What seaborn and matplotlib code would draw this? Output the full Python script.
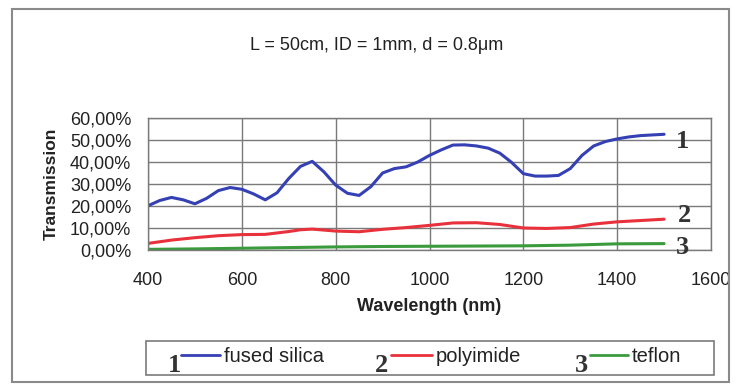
import numpy as np
import pandas as pd
import matplotlib
matplotlib.use("Agg")
import matplotlib.pyplot as plt
from matplotlib.patches import Rectangle
from matplotlib.lines import Line2D
from matplotlib.ticker import FuncFormatter
import seaborn as sns

# ---- data ----
wl_silica = [400, 425, 450, 475, 500, 525, 550, 575, 600, 625, 650, 675, 700, 725, 750,
             775, 800, 825, 850, 875, 900, 925, 950, 975, 1000, 1025, 1050, 1075, 1100,
             1125, 1150, 1175, 1200, 1225, 1250, 1275, 1300, 1325, 1350, 1375, 1400,
             1425, 1450, 1475, 1500]
t_silica = [20.1, 22.5, 23.9, 22.8, 21.0, 23.5, 27.0, 28.4, 27.6, 25.5, 22.8, 26.0, 32.5,
            38.0, 40.3, 35.5, 29.5, 25.8, 24.8, 28.8, 35.0, 37.0, 37.8, 40.0, 43.0, 45.5,
            47.7, 47.8, 47.3, 46.3, 44.0, 39.8, 34.7, 33.6, 33.6, 33.9, 37.0, 43.0, 47.3,
            49.3, 50.5, 51.4, 52.0, 52.3, 52.6]
wl_poly = [400, 450, 500, 550, 600, 650, 700, 725, 750, 800, 850, 900, 950, 1000, 1050,
           1100, 1150, 1200, 1250, 1300, 1350, 1400, 1450, 1500]
t_poly = [3.0, 4.5, 5.6, 6.5, 7.0, 7.1, 8.4, 9.2, 9.5, 8.6, 8.3, 9.4, 10.2, 11.2, 12.3,
          12.4, 11.6, 10.0, 9.8, 10.2, 11.8, 12.8, 13.4, 14.0]
wl_teflon = [400, 500, 600, 700, 800, 900, 1000, 1100, 1200, 1300, 1400, 1500]
t_teflon = [0.3, 0.5, 0.8, 1.1, 1.4, 1.6, 1.7, 1.8, 1.9, 2.2, 2.8, 2.9]

series_names = ["fused silica", "polyimide", "teflon"]
series_nums = ["1", "2", "3"]
series_colors = ["#3440b4", "#e8313a", "#3a9a3c"]
x_ticks = [400, 600, 800, 1000, 1200, 1400, 1600]
y_ticks = [0, 10, 20, 30, 40, 50, 60]
title_text = "L = 50cm, ID = 1mm, d = 0.8\u03bcm"
x_label = "Wavelength (nm)"
y_label = "Transmission"
# label anchor positions next to line ends (data coords)
num_pos = [(1525, 49.5), (1530, 15.5), (1525, 1.2)]

df = pd.concat([
    pd.DataFrame({"wl": wl_silica, "T": t_silica, "material": series_names[0]}),
    pd.DataFrame({"wl": wl_poly, "T": t_poly, "material": series_names[1]}),
    pd.DataFrame({"wl": wl_teflon, "T": t_teflon, "material": series_names[2]}),
])

sns.set_style("white")
plt.rcParams["font.family"] = ["Liberation Sans", "DejaVu Sans"]

W, H = 743, 387
fig = plt.figure(figsize=(W / 100, H / 100), dpi=100)

def fx(x):
    return x / W

def fy(y):
    return 1 - y / H

ax = fig.add_axes([fx(148), fy(250), fx(711) - fx(148), fy(118) - fy(250)])

sns.lineplot(data=df, x="wl", y="T", hue="material", palette=series_colors,
             hue_order=series_names, linewidth=2.2, ax=ax, legend=False, sort=False)

ax.set_xlim(400, 1600)
ax.set_ylim(0, 60)
ax.set_xticks(x_ticks)
ax.set_yticks(y_ticks)
ax.yaxis.set_major_formatter(FuncFormatter(lambda v, p: f"{v:.2f}".replace(".", ",") + "%"))
grid_col = "#7a7a7a"
ax.grid(True, color=grid_col, linewidth=1.0)
for s in ax.spines.values():
    s.set_color(grid_col)
    s.set_linewidth(1.0)
ax.tick_params(axis="both", which="major", direction="out", length=5, width=1.0,
               color=grid_col, labelsize=13, labelcolor="#222222")
ax.tick_params(axis="x", pad=11)
ax.tick_params(axis="y", pad=7)
ax.set_xlabel(x_label, fontsize=13, fontweight="bold", color="#222222", labelpad=6)
ax.set_ylabel(y_label, fontsize=12.5, fontweight="bold", color="#222222", labelpad=8)

for (x, y), n in zip(num_pos, series_nums):
    ax.text(x, y, n, fontsize=19, fontweight="bold", family=["Liberation Serif", "DejaVu Serif"],
            color="#333333", ha="left", va="center", clip_on=False)

fig.text(fx(377), fy(46), title_text, fontsize=13, ha="center", va="center", color="#222222")

# outer chart frame
fig.patches.append(Rectangle((fx(12), fy(382)), fx(729) - fx(12), fy(9) - fy(382),
                             transform=fig.transFigure, fill=False,
                             edgecolor="#8a8a8a", linewidth=1.5))

# legend box
fig.patches.append(Rectangle((fx(146), fy(375)), fx(714) - fx(146), fy(341) - fy(375),
                             transform=fig.transFigure, fill=False,
                             edgecolor="#7a7a7a", linewidth=1.2))
leg_num_x = [174, 382, 581]
leg_line = [(181, 220), (391, 432), (590, 628)]
leg_text_x = [224, 436, 632]
for i in range(3):
    fig.text(fx(leg_num_x[i]), fy(372), series_nums[i], fontsize=19, fontweight="bold",
             family=["Liberation Serif", "DejaVu Serif"], color="#333333",
             ha="center", va="baseline")
    fig.lines.append(Line2D([fx(leg_line[i][0]), fx(leg_line[i][1])], [fy(355), fy(355)],
                            transform=fig.transFigure, color=series_colors[i], linewidth=2.0))
    fig.text(fx(leg_text_x[i]), fy(356), series_names[i], fontsize=14.5,
             color="#222222", ha="left", va="center")

fig.savefig("out.png", dpi=100, facecolor="white")
